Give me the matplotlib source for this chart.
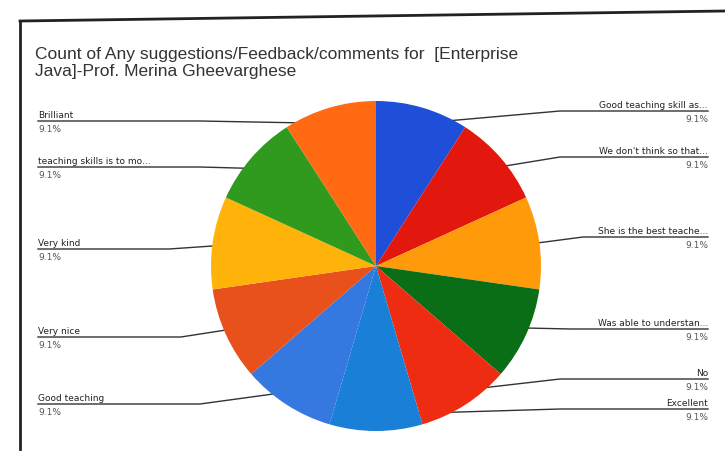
import numpy as np
import matplotlib.pyplot as plt

# feedback answers, clockwise from 12 o'clock
labels = ["Good teaching skill as...", "We don't think so that...", "She is the best teache...",
          "Was able to understan...", "No", "Excellent", "Good teaching", "Very nice",
          "Very kind", "teaching skills is to mo...", "Brilliant"]
counts = [1, 1, 1, 1, 1, 1, 1, 1, 1, 1, 1]
colors = ["#1f4fd8", "#e2170e", "#ff9a0a", "#0a6e16", "#ee2c12", "#1a7fd6",
          "#3578e0", "#e8501c", "#ffb20a", "#2f9a1e", "#ff6a12"]

# label layout (pixel y of underline, side)
label_y = [112, 158, 238, 330, 380, 410, 405, 338, 250, 168, 122]
side = ["r", "r", "r", "r", "r", "r", "l", "l", "l", "l", "l"]

fig = plt.figure(figsize=(7.25, 4.6), dpi=100)
fig.patch.set_facecolor("white")
ax = fig.add_axes([0, 0, 1, 1])

cx, cy, r = 376, 267, 165
wedges, _ = ax.pie(counts, colors=colors, startangle=-90, counterclock=True,
                   center=(cx, cy), radius=r, frame=True,
                   wedgeprops=dict(linewidth=0, zorder=3))
ax.set_xlim(0, 725)
ax.set_ylim(460, 0)
ax.set_aspect("equal")
ax.axis("off")

total = sum(counts)
for w, lab, n, ly, s in zip(wedges, labels, counts, label_y, side):
    th = np.deg2rad((w.theta1 + w.theta2) / 2)
    px, py = cx + 0.9 * r * np.cos(th), cy + 0.9 * r * np.sin(th)
    pct = "%.1f%%" % (100.0 * n / total)
    if s == "r":
        xs = [px, max(px + 60, 560), 708]
        ax.text(708, ly - 2, lab, ha="right", va="bottom", fontsize=6.5, color="#222222")
        ax.text(708, ly + 3, pct, ha="right", va="top", fontsize=6.5, color="#555555")
    else:
        xs = [px, min(px - 60, 200), 38]
        ax.text(38, ly - 2, lab, ha="left", va="bottom", fontsize=6.5, color="#222222")
        ax.text(38, ly + 3, pct, ha="left", va="top", fontsize=6.5, color="#555555")
    ax.plot(xs, [py, ly, ly], color="#333333", lw=1.0, zorder=1)

ax.text(35, 63, "Count of Any suggestions/Feedback/comments for  [Enterprise\nJava]-Prof. Merina Gheevarghese",
        fontsize=12.5, family="Liberation Sans", color="#333333", va="center", linespacing=1.2)

# paper frame
ax.plot([20, 20], [22, 450], color="#222222", lw=2, zorder=1)
ax.plot([20, 725], [22, 12], color="#222222", lw=2, zorder=1)

fig.savefig("out.png", dpi=100)
